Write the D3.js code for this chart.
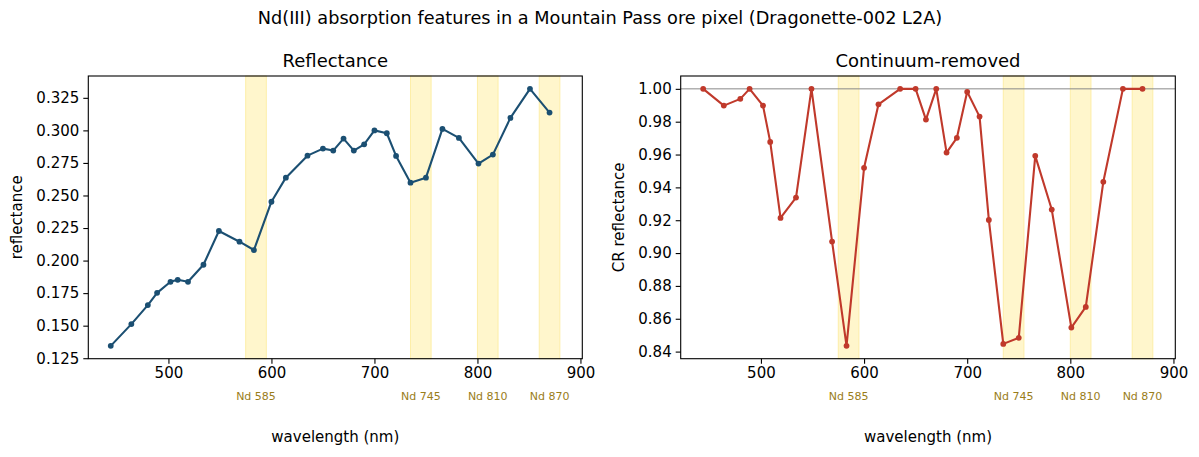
<!DOCTYPE html>
<html>
<head>
<meta charset="utf-8">
<script src="https://cdn.jsdelivr.net/npm/d3@7"></script>
<style>
  body { margin: 0; background: #fff; }
  svg text { font-family: "DejaVu Sans", sans-serif; fill: #000; }
  .axis path, .axis line { stroke: #000; stroke-width: 1.1px; }
  .axis text { font-size: 15px; }
</style>
</head>
<body>
<div id="chart"></div>
<script>
// band centres (nm)
var wavelengths = [444, 464, 480, 489, 502, 509, 519, 534, 549, 569, 583, 600, 614, 635, 650, 660,
                   670, 680, 690, 700, 712, 721, 735, 750, 766, 782, 801, 815, 832, 851, 870];
// reflectance
var reflectance = [0.1345, 0.1512, 0.1658, 0.1752, 0.1837, 0.1852, 0.1837, 0.1968, 0.2227, 0.2145,
                   0.2081, 0.2452, 0.2637, 0.2806, 0.2860, 0.2845, 0.2937, 0.2845, 0.2893, 0.3000,
                   0.2978, 0.2804, 0.2598, 0.2637, 0.3011, 0.2942, 0.2745, 0.2814, 0.3096, 0.3319, 0.3137];
// continuum removed
var crReflectance = [1.0, 0.9898, 0.9939, 1.0, 0.9898, 0.9677, 0.9214, 0.9338, 1.0, 0.9070,
                     0.8435, 0.9519, 0.9906, 1.0, 1.0, 0.9813, 1.0, 0.9612, 0.9702, 0.9982,
                     0.9831, 0.9202, 0.8447, 0.8484, 0.9592, 0.9265, 0.8546, 0.8672, 0.9434, 1.0, 1.0];
// Nd absorption windows
var ndCentres = [585, 745, 810, 870];
var ndLabels = ["Nd 585", "Nd 745", "Nd 810", "Nd 870"];
var ndHalfWidth = 10;

var yTicksLeft = [0.125, 0.150, 0.175, 0.200, 0.225, 0.250, 0.275, 0.300, 0.325];
var yTicksRight = [0.84, 0.86, 0.88, 0.90, 0.92, 0.94, 0.96, 0.98, 1.00];
var xTicks = [500, 600, 700, 800, 900];

var width = 1199, height = 457;

var svg = d3.select("#chart").append("svg")
    .attr("width", width)
    .attr("height", height);

// figure title
svg.append("text")
    .attr("x", 600).attr("y", 24)
    .attr("text-anchor", "middle")
    .style("font-size", "17.7px")
    .text("Nd(III) absorption features in a Mountain Pass ore pixel (Dragonette-002 L2A)");

function pad(ext) {
    var m = (ext[1] - ext[0]) * 0.05;
    return [ext[0] - m, ext[1] + m];
}

var xExtent = [d3.min(wavelengths), d3.max(ndCentres) + ndHalfWidth];

function panel(opt) {
    var left = opt.left, right = opt.right, top = 76, bottom = 358.7;
    var g = svg.append("g");

    var x = d3.scaleLinear().domain(pad(xExtent)).range([left, right]);
    var y = d3.scaleLinear().domain(pad(d3.extent(opt.values))).range([bottom, top]);

    // shaded Nd windows
    g.selectAll(".band")
        .data(ndCentres)
        .enter()
        .append("rect")
        .attr("x", function(d) { return x(d - ndHalfWidth); })
        .attr("y", top)
        .attr("width", function(d) { return x(d + ndHalfWidth) - x(d - ndHalfWidth); })
        .attr("height", bottom - top)
        .attr("fill", "#fff6cc")
        .attr("stroke", "#fdeea8")
        .attr("stroke-width", 1);

    // Nd labels below the axis
    g.selectAll(".ndlab")
        .data(ndCentres)
        .enter()
        .append("text")
        .attr("x", function(d) { return x(d); })
        .attr("y", 400)
        .attr("text-anchor", "middle")
        .style("font-size", "11px")
        .style("fill", "#9a7d1a")
        .text(function(d, i) { return ndLabels[i]; });

    if (opt.refLine != null) {
        g.append("line")
            .attr("x1", left).attr("x2", right)
            .attr("y1", y(opt.refLine)).attr("y2", y(opt.refLine))
            .attr("stroke", "#888")
            .attr("stroke-width", 1);
    }

    var line = d3.line()
        .x(function(d, i) { return x(wavelengths[i]); })
        .y(function(d) { return y(d); });

    g.append("path")
        .datum(opt.values)
        .attr("d", line)
        .attr("fill", "none")
        .attr("stroke", opt.color)
        .attr("stroke-width", 2.1)
        .attr("stroke-linejoin", "round");

    g.selectAll(".pt")
        .data(opt.values)
        .enter()
        .append("circle")
        .attr("cx", function(d, i) { return x(wavelengths[i]); })
        .attr("cy", function(d) { return y(d); })
        .attr("r", 2.9)
        .attr("fill", opt.color);

    // axes
    g.append("g")
        .attr("class", "axis")
        .attr("transform", "translate(0," + bottom + ")")
        .call(d3.axisBottom(x).tickValues(xTicks).tickSizeInner(5).tickSizeOuter(0).tickPadding(4))
        .select(".domain").remove();

    g.append("g")
        .attr("class", "axis")
        .attr("transform", "translate(" + left + ",0)")
        .call(d3.axisLeft(y).tickValues(opt.yTicks).tickFormat(d3.format(opt.fmt))
              .tickSizeInner(5).tickSizeOuter(0).tickPadding(4))
        .select(".domain").remove();

    // frame
    g.append("rect")
        .attr("x", left).attr("y", top)
        .attr("width", right - left).attr("height", bottom - top)
        .attr("fill", "none")
        .attr("stroke", "#000")
        .attr("stroke-width", 1.1);

    // titles
    g.append("text")
        .attr("x", (left + right) / 2).attr("y", 67)
        .attr("text-anchor", "middle")
        .style("font-size", "18px")
        .text(opt.title);

    g.append("text")
        .attr("x", (left + right) / 2).attr("y", 442)
        .attr("text-anchor", "middle")
        .style("font-size", "15px")
        .text("wavelength (nm)");

    g.append("text")
        .attr("transform", "translate(" + opt.ylabX + "," + ((top + bottom) / 2) + ") rotate(-90)")
        .attr("text-anchor", "middle")
        .style("font-size", "15px")
        .text(opt.ylabel);
}

panel({
    left: 88.3, right: 582.3,
    values: reflectance,
    color: "#1b4f72",
    yTicks: yTicksLeft, fmt: ".3f",
    title: "Reflectance", ylabel: "reflectance", ylabX: 22
});

panel({
    left: 680.7, right: 1175.3,
    values: crReflectance,
    color: "#c0392b",
    yTicks: yTicksRight, fmt: ".2f",
    refLine: 1.0,
    title: "Continuum-removed", ylabel: "CR reflectance", ylabX: 624
});
</script>
</body>
</html>
